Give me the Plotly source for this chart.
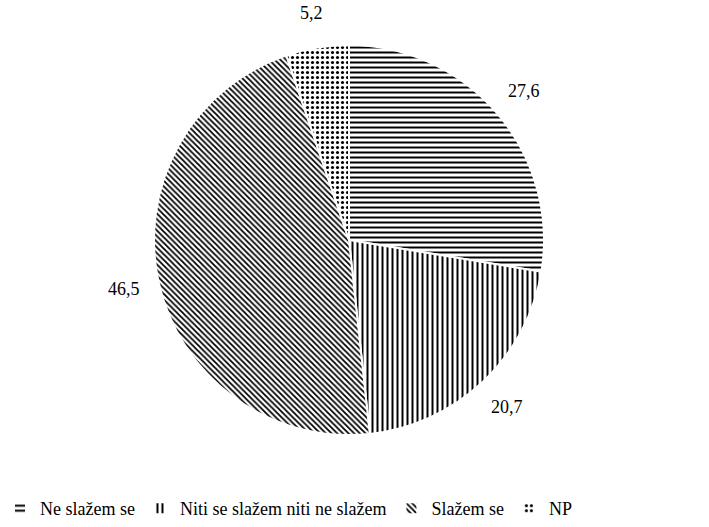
import math
import plotly.graph_objects as go

categories = ["Ne slažem se", "Niti se slažem niti ne slažem", "Slažem se", "NP"]
values = [27.6, 20.7, 46.5, 5.2]
patterns = ["-", "|", "\\", "."]

labels_text = [f"{v:.1f}".replace(".", ",") for v in values]

W, H = 709, 527
cx, cy, r = 349, 240, 195
label_r = 230
FONT = "Liberation Serif, Times New Roman, serif"

fig = go.Figure(go.Pie(
    labels=categories,
    values=values,
    textinfo="none",
    sort=False,
    direction="clockwise",
    rotation=0,
    hoverinfo="label+value",
    marker=dict(
        colors=["white"] * 4,
        line=dict(color="white", width=2),
        pattern=dict(shape=patterns, fgcolor="black", bgcolor="white",
                     size=[5, 5, 4, 5], solidity=[0.4, 0.4, 0.45, 0.3]),
    ),
    domain=dict(x=[(cx - r) / W, (cx + r) / W], y=[(H - cy - r) / H, (H - cy + r) / H]),
))

# data labels at the mid-angle of each slice
total = sum(values)
cum = 0.0
for v, t in zip(values, labels_text):
    mid = (cum + v / 2) / total * 2 * math.pi
    cum += v
    px = cx + label_r * math.sin(mid)
    py = cy - label_r * math.cos(mid)
    fig.add_annotation(x=px / W, y=(H - py) / H, xref="paper", yref="paper",
                       xanchor="center", yanchor="middle",
                       text=t, showarrow=False,
                       font=dict(family=FONT, size=18, color="#000000"))

fig.update_layout(
    width=W, height=H,
    margin=dict(l=0, r=0, t=0, b=0, autoexpand=False),
    paper_bgcolor="white",
    plot_bgcolor="white",
    font=dict(family=FONT, size=18, color="#000000"),
    legend=dict(orientation="h", x=0.0, xanchor="left", y=0.0, yanchor="bottom",
                font=dict(family=FONT, size=18, color="#000000"),
                itemwidth=30, traceorder="normal"),
    showlegend=True,
)

fig.write_html("out.html", config={"displayModeBar": False},
               post_script="document.body.style.margin='0';")
